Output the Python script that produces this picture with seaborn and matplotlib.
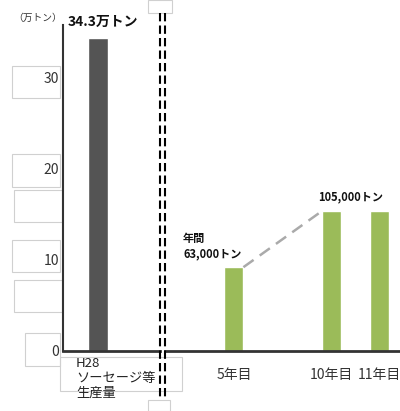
import matplotlib
matplotlib.use('Agg')
import matplotlib.pyplot as plt
import seaborn as sns
import pandas as pd
from matplotlib.lines import Line2D
from matplotlib.patches import Rectangle

sns.set_style('white')
plt.rcParams['font.family'] = ['Noto Sans CJK JP', 'DejaVu Sans']

# データ
left_cat = ['H28']
left_val = [34.3]          # 万トン
right_cat = ['5年目', '10年目', '11年目']
right_val = [6.3, 10.5, 10.5]   # 万トン
right_order = ['5年目', ' ', '10年目', '11年目']
yticks = [0, 10, 20, 30]

W, H = 400, 411
fig = plt.figure(figsize=(W / 100, H / 100), dpi=100)

def fx(px):
    return px / W

def fy(py):
    return 1 - py / H

# --- 左：H28 実績 ---
axL = fig.add_axes([fx(63), fy(351), fx(160 - 63), (351 - 25) / H])
df_l = pd.DataFrame({'cat': left_cat, 'val': left_val})
sns.barplot(data=df_l, x='cat', y='val', color='#545454', width=0.8,
            saturation=1, ax=axL)
axL.set_xlim(-1.4, 2.48)
axL.set_ylim(0, 35.7)
axL.set_yticks(yticks)
axL.set_yticklabels([str(v) for v in yticks], fontsize=10, color='#333333')
axL.tick_params(axis='y', length=0, pad=3)
axL.set_xticks([])
axL.set_xlabel('')
axL.set_ylabel('')
for s in ['top', 'right']:
    axL.spines[s].set_visible(False)
axL.spines['left'].set_color('#333333')
axL.spines['left'].set_linewidth(1.5)
axL.spines['bottom'].set_color('#333333')
axL.spines['bottom'].set_linewidth(2)
fig.text(fx(68), fy(22), f'{left_val[0]}万トン', fontsize=10,
         fontweight='bold', ha='left', va='center', color='#111111')
fig.text(fx(62), fy(18), '（万トン）', fontsize=7, ha='right', va='center',
         color='#333333')
fig.text(fx(76), fy(357), 'H28\nソーセージ等\n生産量', fontsize=9.5,
         ha='left', va='top', linespacing=1.2, color='#222222')

# --- 右：計画 ---
axR = fig.add_axes([fx(165), fy(351), fx(400 - 165), (351 - 25) / H])
df_r = pd.DataFrame({'cat': right_cat, 'val': right_val})
sns.barplot(data=df_r, x='cat', y='val', order=right_order, color='#9BBB59',
            width=0.39, saturation=1, ax=axR)
axR.set_xlim(-1.42, 3.42)
axR.set_ylim(0, 24.5)
axR.set_yticks([])
axR.set_xlabel('')
axR.set_ylabel('')
axR.tick_params(axis='x', length=0, pad=12, labelsize=10, labelcolor='#333333')
for s in ['top', 'right', 'left']:
    axR.spines[s].set_visible(False)
axR.spines['bottom'].set_color('#333333')
axR.spines['bottom'].set_linewidth(2)

# 伸び線
axR.plot([0 + 0.195, 2 - 0.195], [right_val[0], right_val[1]],
         color='#AAAAAA', lw=1.8, ls=(0, (5, 3)))
fig.text(fx(183), fy(238), '年間', fontsize=8, fontweight='bold',
         ha='left', va='center', color='#111111')
fig.text(fx(183), fy(254), '63,000トン', fontsize=8, fontweight='bold',
         ha='left', va='center', color='#111111')
fig.text(fx(318), fy(197), '105,000トン', fontsize=8, fontweight='bold',
         ha='left', va='center', color='#111111')

# 区切り二重破線
for x in [160, 165]:
    fig.add_artist(Line2D([fx(x), fx(x)], [fy(13), fy(400)], color='black',
                          lw=1.5, ls=(0, (4, 2))))

# 枠線（テキストボックス）
boxes = [(12, 66, 48, 32), (12, 154, 48, 33), (14, 190, 48, 32),
         (12, 240, 48, 32), (14, 280, 48, 32), (25, 333, 35, 33),
         (60, 357, 122, 34), (148, 0, 24, 13), (148, 400, 22, 11)]
for (x, y, w, h) in boxes:
    fig.add_artist(Rectangle((fx(x), fy(y + h)), fx(w), h / H, fill=False,
                             ec='#D0D0D0', lw=0.8, zorder=0))

plt.savefig('out.png', dpi=100)
